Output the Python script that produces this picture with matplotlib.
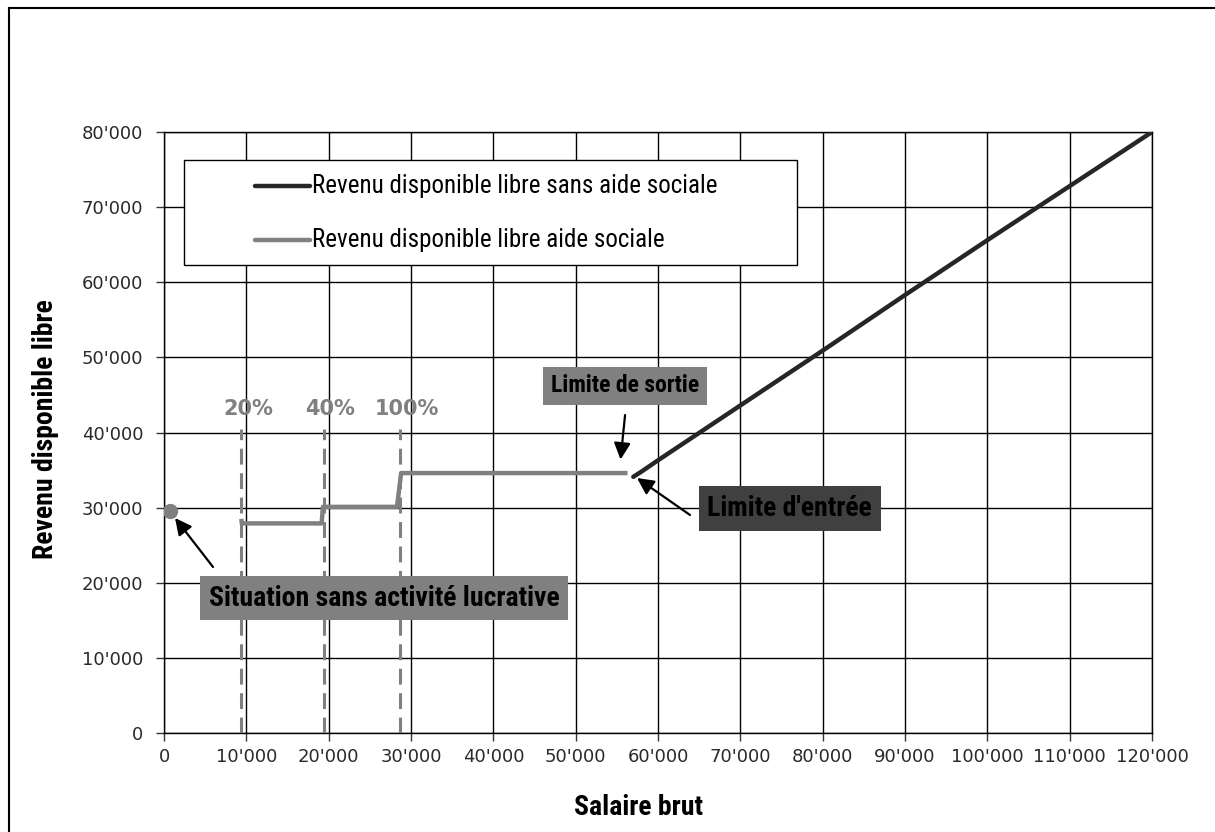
import matplotlib
matplotlib.use("Agg")
import matplotlib.pyplot as plt
from matplotlib import font_manager
from matplotlib.lines import Line2D
from matplotlib.patches import Rectangle

# --- data -------------------------------------------------------------
series_names = ["Revenu disponible libre sans aide sociale",
                "Revenu disponible libre aide sociale"]

# free disposable income without social aid (gross salary -> income)
sans_aide_x = [57000, 58000, 60000, 70000, 80000, 90000, 100000, 110000, 120000]
sans_aide_y = [34100, 34800, 36300, 43600, 50900, 58300, 65600, 72800, 80000]

# free disposable income with social aid (stepwise)
aide_x = [9400, 9450, 19150, 19300, 28300, 28800, 56300]
aide_y = [28500, 27900, 27900, 30100, 30100, 34600, 34600]

# situation without gainful activity
sans_activite_x = [700]
sans_activite_y = [29500]

# income-allowance thresholds
seuil_labels = ["20%", "40%", "100%"]
seuil_x = [9400, 19400, 28700]
seuil_top = 40400

x_ticks = list(range(0, 120001, 10000))
y_ticks = list(range(0, 80001, 10000))


def fmt(v):
    return f"{v:,}".replace(",", "'")


x_tick_labels = [fmt(v) for v in x_ticks]
y_tick_labels = [fmt(v) for v in y_ticks]

GRAY = "#808080"
DARK = "#262626"

# pick a narrow sans face for labels and callouts
_fonts = font_manager.fontManager.ttflist
_names = {f.name for f in _fonts}
if "Roboto Condensed" in _names:
    NARROW = dict(family=["Roboto Condensed", "DejaVu Sans"])
    SCALE = 1.0
elif "Liberation Sans Narrow" in _names:
    NARROW = dict(family=["Liberation Sans Narrow", "DejaVu Sans"])
    SCALE = 1.0
else:
    NARROW = dict(family=["DejaVu Sans"])
    SCALE = 0.85

# --- figure -----------------------------------------------------------
fig = plt.figure(figsize=(12.15, 8.32), dpi=100)
W, H = 1215, 832
ax = fig.add_axes([164 / W, (H - 733) / H, (1152 - 164) / W, (733 - 132) / H])

ax.set_xlim(0, 120000)
ax.set_ylim(0, 80000)
ax.set_xticks(x_ticks)
ax.set_xticklabels(x_tick_labels)
ax.set_yticks(y_ticks)
ax.set_yticklabels(y_tick_labels)
ax.tick_params(axis="both", direction="out", length=6, width=1,
               color="#333333", labelsize=13, labelcolor="#2a2a2a")
ax.tick_params(axis="y", pad=9)
ax.tick_params(axis="x", pad=5)
ax.grid(True, color="black", linewidth=1.0)
ax.set_axisbelow(True)
for s in ax.spines.values():
    s.set_color("black")
    s.set_linewidth(1.0)

ax.set_xlabel("Salaire brut", fontsize=20 * SCALE, fontweight="bold",
              **NARROW)
ax.xaxis.set_label_coords(0.48, -0.102)
ax.set_ylabel("Revenu disponible libre", fontsize=20 * SCALE,
              fontweight="bold", **NARROW)
ax.yaxis.set_label_coords(-0.106, 0.505)

# threshold markers
for xv, lab in zip(seuil_x, seuil_labels):
    ax.plot([xv, xv], [0, seuil_top], color=GRAY, linewidth=2.2,
            linestyle=(0, (5.2, 2.8)), zorder=3)
    ax.text(xv + 800, seuil_top + 2700, lab, color=GRAY, fontsize=15,
            fontweight="bold", family="DejaVu Sans", ha="center",
            va="center", zorder=4)

# series
ax.plot(aide_x, aide_y, color=GRAY, linewidth=3.2, zorder=5,
        solid_capstyle="butt")
ax.plot(sans_aide_x, sans_aide_y, color=DARK, linewidth=3.2, zorder=5,
        solid_capstyle="round")
ax.plot(sans_activite_x, sans_activite_y, "o", color=GRAY, markersize=10,
        zorder=6)


# annotation boxes with arrows
def callout(text, center, tail, tip, face, size):
    ax.text(center[0], center[1], text, fontsize=size * SCALE,
            fontweight="bold", color="black", ha="center", va="center",
            zorder=8,
            bbox=dict(boxstyle="square,pad=0.32", facecolor=face,
                      edgecolor="none"), **NARROW)
    ax.annotate("", xy=tip, xytext=tail, zorder=8,
                arrowprops=dict(arrowstyle="-|>,head_length=1.0,head_width=0.5",
                                mutation_scale=10, color="black",
                                linewidth=1.6, shrinkA=0, shrinkB=0))


callout("Limite de sortie", (56000, 46190), (56000, 42330), (55450, 36400),
        GRAY, 17)
callout("Limite d'entrée", (76000, 29880), (63890, 29020), (57450, 33940),
        "#404040", 20)
callout("Situation sans activité lucrative", (26700, 17970), (5950, 22100),
        (1340, 28620), GRAY, 20)

# legend block
lx0, ly0, lw, lh = 0.020, 0.779, 0.621, 0.174
ax.add_patch(Rectangle((lx0, ly0), lw, lh, transform=ax.transAxes,
                       facecolor="white", edgecolor="black", linewidth=1.0,
                       zorder=9))
for name, color, yy in zip(series_names, [DARK, GRAY], [0.910, 0.820]):
    ax.add_line(Line2D([0.092, 0.148], [yy, yy], transform=ax.transAxes,
                       color=color, linewidth=3.2, zorder=10,
                       solid_capstyle="round"))
    ax.text(0.150, yy, name, transform=ax.transAxes, fontsize=18 * SCALE,
            color="black", ha="left", va="center", zorder=10, **NARROW)

# outer frame (top and left edges)
fig.add_artist(Line2D([9 / W, 1.0], [1 - 8 / H, 1 - 8 / H],
                      transform=fig.transFigure, color="black", linewidth=1.5))
fig.add_artist(Line2D([9 / W, 9 / W], [0.0, 1 - 8 / H],
                      transform=fig.transFigure, color="black", linewidth=1.5))

fig.savefig("out.png", dpi=100, facecolor="white")
